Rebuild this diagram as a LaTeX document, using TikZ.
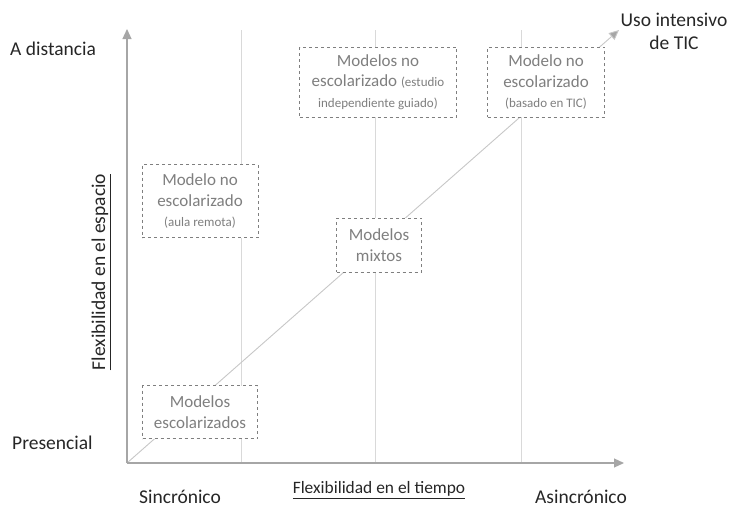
\documentclass[tikz,border=0pt]{standalone}
\usepackage{fontspec}
\setmainfont{Carlito}
\usetikzlibrary{arrows.meta}
\definecolor{axisgray}{HTML}{A6A6A6}
\definecolor{gridgray}{HTML}{D9D9D9}
\definecolor{boxgray}{HTML}{7F7F7F}
\definecolor{labelblack}{HTML}{262626}
\tikzset{
  axisline/.style={draw=axisgray, line width=1.2pt, -{Triangle[length=10pt,width=9pt]}},
  diagline/.style={draw=gridgray!80!gray, line width=0.9pt, -{Triangle[length=10pt,width=9pt,fill=axisgray]}},
  gridline/.style={draw=gridgray, line width=0.8pt},
  modelbox/.style={draw=boxgray, dashed, line width=0.8pt, fill=white, text=boxgray, align=center,
    inner sep=0pt, font=\fontsize{17}{20.5}\selectfont},
  biglabel/.style={text=labelblack, inner sep=0pt, font=\fontsize{19.5}{23}\selectfont, align=center},
  axistitle/.style={text=labelblack, inner sep=0pt, font=\fontsize{17.4}{20}\selectfont},
}
\newcommand{\smalltxt}[1]{{\fontsize{13}{16}\selectfont #1}}
\begin{document}
\begin{tikzpicture}[x=1pt,y=-1pt]
\useasboundingbox (0,0) rectangle (732,509);
% grid lines
\coordinate (g1t) at (241,30); \coordinate (g1b) at (241,463);
\coordinate (g2t) at (375,30); \coordinate (g2b) at (375,463);
\coordinate (g3t) at (521,30); \coordinate (g3b) at (521,463);
\draw[gridline] (g1t) -- (g1b);
\draw[gridline] (g2t) -- (g2b);
\draw[gridline] (g3t) -- (g3b);
% axes
\coordinate (o) at (127,463);
\coordinate (ytip) at (127,29);
\coordinate (xtip) at (624,463);
\coordinate (dtip) at (619,30);
\draw[diagline] (o) -- (dtip);
\draw[axisline] (o) -- (ytip);
\draw[axisline] (o) -- (xtip);
% boxes
\node[modelbox, minimum width=157pt, minimum height=70pt] (b1) at (378,82)
  {Modelos no\\escolarizado \smalltxt{(estudio}\\\smalltxt{independiente guiado)}};
\node[modelbox, minimum width=117pt, minimum height=70pt] (b2) at (546,82)
  {Modelo no\\escolarizado\\\smalltxt{(basado en TIC)}};
\node[modelbox, minimum width=116pt, minimum height=73pt] (b3) at (200,201)
  {Modelo no\\escolarizado\\\smalltxt{(aula remota)}};
\node[modelbox, minimum width=85pt, minimum height=54pt] (b4) at (379,245)
  {Modelos\\mixtos};
\node[modelbox, minimum width=115pt, minimum height=53pt] (b5) at (200,412)
  {Modelos\\escolarizados};
% labels
\node[biglabel, anchor=west] (adist) at (10,49) {A distancia};
\node[biglabel, anchor=west] (pres) at (12,443) {Presencial};
\node[biglabel] (sinc) at (180,497) {Sincrónico};
\node[biglabel] (asinc) at (581,497) {Asincrónico};
\node[biglabel] (uso) at (674,31) {Uso intensivo\\de TIC};
\node[axistitle] (ft) at (379,490) {\underline{Flexibilidad en el tiempo}};
\node[axistitle, rotate=90, font=\fontsize{19.5}{22}\selectfont] (fe) at (101,272) {\underline{Flexibilidad en el espacio}};
\end{tikzpicture}
\end{document}
